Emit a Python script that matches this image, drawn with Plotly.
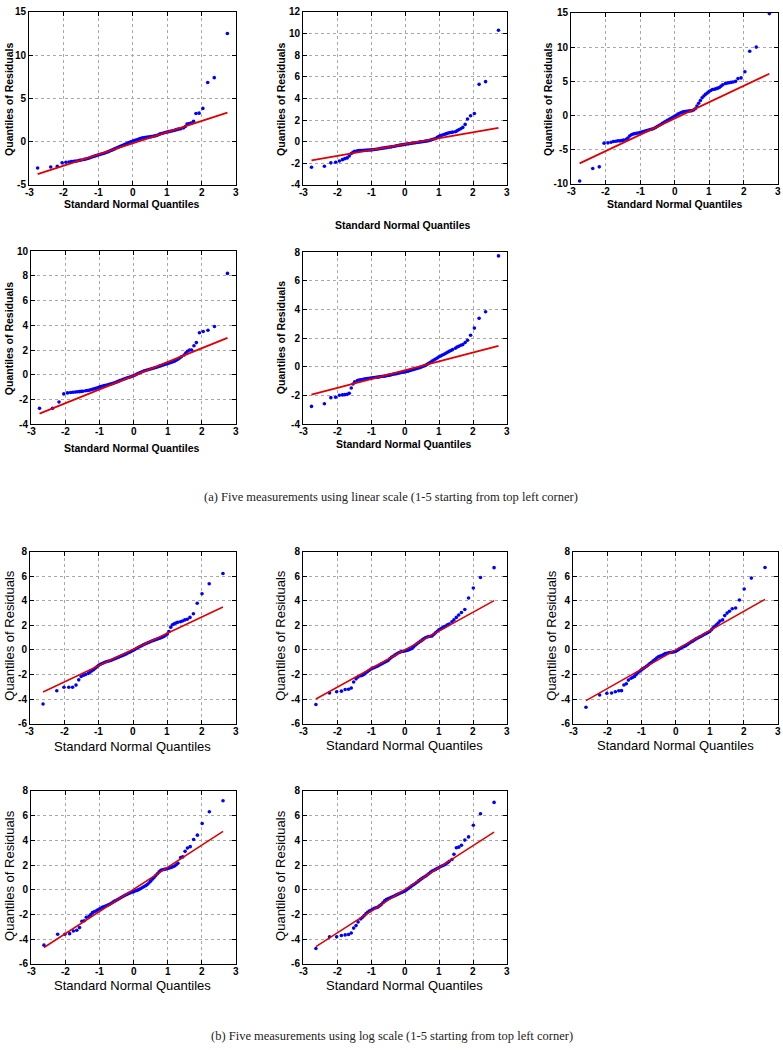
import plotly.graph_objects as go

W, H = 783, 1050

# ---------------- data ----------------
X_LIN = [-2.75, -2.37, -2.18, -2.04, -1.93, -1.84, -1.77, -1.70, -1.64, -1.58, -1.53, -1.48,
         -1.40, -1.35, -1.30, -1.25, -1.20, -1.15, -1.10, -1.05, -1.00, -0.95,
         -0.90, -0.85, -0.80, -0.75, -0.70, -0.65, -0.60, -0.55, -0.50, -0.45,
         -0.40, -0.35, -0.30, -0.25, -0.20, -0.15, -0.10, -0.05, 0.00, 0.05,
         0.10, 0.15, 0.20, 0.25, 0.30, 0.35, 0.40, 0.45, 0.50, 0.55,
         0.60, 0.65, 0.70, 0.75, 0.80, 0.85, 0.90, 0.95, 1.00, 1.05,
         1.10, 1.15, 1.20, 1.25, 1.30, 1.35, 1.40,
         1.48, 1.53, 1.58, 1.64, 1.70, 1.77, 1.84, 1.93, 2.04, 2.18, 2.37, 2.75]

Y_LIN1 = [-3.05, -2.93, -2.86, -2.45, -2.38, -2.35, -2.3, -2.27, -2.25, -2.2, -2.15, -2.12,
          -2.05, -2.00, -1.95, -1.88, -1.80, -1.74, -1.67, -1.61, -1.55, -1.48,
          -1.42, -1.36, -1.30, -1.22, -1.15, -1.06, -0.98, -0.89, -0.80, -0.71,
          -0.62, -0.53, -0.45, -0.36, -0.28, -0.19, -0.10, -0.02, 0.05, 0.12,
          0.20, 0.26, 0.32, 0.39, 0.45, 0.48, 0.50, 0.53, 0.55, 0.58,
          0.62, 0.67, 0.72, 0.80, 0.90, 0.95, 1.00, 1.06, 1.12, 1.16,
          1.20, 1.25, 1.30, 1.36, 1.42, 1.46, 1.50,
          1.6, 1.75, 2.05, 2.1, 2.15, 2.35, 3.25, 3.3, 3.85, 6.85, 7.4, 12.5]
Y_LIN2 = [-2.36, -2.27, -1.96, -1.9, -1.78, -1.66, -1.57, -1.5, -1.32, -1.1, -0.99, -0.9,
          -0.85, -0.83, -0.82, -0.81, -0.80, -0.79, -0.78, -0.77, -0.76, -0.74,
          -0.72, -0.70, -0.68, -0.65, -0.62, -0.60, -0.57, -0.55, -0.52, -0.50,
          -0.48, -0.45, -0.42, -0.38, -0.35, -0.32, -0.30, -0.27, -0.25, -0.22,
          -0.20, -0.17, -0.15, -0.12, -0.10, -0.07, -0.05, -0.02, 0.00, 0.02,
          0.05, 0.07, 0.10, 0.15, 0.20, 0.25, 0.30, 0.40, 0.50, 0.56,
          0.62, 0.67, 0.72, 0.77, 0.82, 0.85, 0.88,
          0.92, 1.0, 1.1, 1.2, 1.32, 1.6, 2.1, 2.4, 2.6, 5.3, 5.55, 10.3]
Y_LIN3 = [-9.57, -7.74, -7.5, -4.04, -3.99, -3.9, -3.8, -3.75, -3.7, -3.7, -3.65, -3.6,
          -3.46, -3.30, -3.00, -2.80, -2.70, -2.65, -2.60, -2.55, -2.50, -2.42,
          -2.35, -2.28, -2.20, -2.12, -2.05, -1.98, -1.90, -1.75, -1.60, -1.45,
          -1.30, -1.15, -1.00, -0.85, -0.70, -0.55, -0.40, -0.25, -0.10, 0.05,
          0.20, 0.33, 0.45, 0.53, 0.60, 0.63, 0.65, 0.68, 0.70, 0.80,
          1.00, 1.40, 1.80, 2.20, 2.60, 2.85, 3.10, 3.30, 3.50, 3.65,
          3.80, 3.85, 3.90, 4.00, 4.10, 4.30, 4.50,
          4.7, 4.75, 4.8, 4.85, 4.9, 5.0, 5.4, 5.5, 6.4, 9.4, 10.0, 14.9]
Y_LIN4 = [-2.72, -2.72, -2.2, -1.55, -1.47, -1.44, -1.42, -1.4, -1.38, -1.37, -1.35, -1.33,
          -1.30, -1.28, -1.25, -1.22, -1.18, -1.14, -1.10, -1.05, -1.00, -0.96,
          -0.92, -0.88, -0.85, -0.82, -0.78, -0.74, -0.70, -0.65, -0.60, -0.54,
          -0.48, -0.42, -0.37, -0.32, -0.27, -0.22, -0.18, -0.13, -0.08, -0.02,
          0.05, 0.12, 0.18, 0.24, 0.30, 0.34, 0.38, 0.43, 0.47, 0.51,
          0.55, 0.59, 0.63, 0.68, 0.72, 0.77, 0.82, 0.86, 0.90, 0.95,
          1.00, 1.05, 1.10, 1.17, 1.25, 1.35, 1.45,
          1.6, 1.75, 1.9, 2.0, 2.0, 2.35, 2.6, 3.4, 3.5, 3.6, 3.9, 8.2]
Y_LIN5 = [-2.76, -2.58, -2.15, -2.12, -1.98, -1.96, -1.94, -1.92, -1.85, -1.48, -1.2, -1.05,
          -0.95, -0.92, -0.90, -0.88, -0.86, -0.84, -0.82, -0.80, -0.78, -0.76,
          -0.75, -0.73, -0.72, -0.70, -0.68, -0.66, -0.65, -0.62, -0.60, -0.58,
          -0.55, -0.52, -0.50, -0.48, -0.45, -0.42, -0.40, -0.38, -0.35, -0.32,
          -0.30, -0.26, -0.22, -0.18, -0.15, -0.12, -0.08, -0.04, 0.00, 0.05,
          0.10, 0.17, 0.25, 0.32, 0.40, 0.48, 0.55, 0.62, 0.70, 0.76,
          0.82, 0.88, 0.95, 1.02, 1.08, 1.14, 1.20,
          1.3, 1.38, 1.43, 1.5, 1.55, 1.7, 1.85, 2.2, 2.7, 3.38, 3.84, 7.74]

X_LOG = [-2.62, -2.22, -2.01, -1.87, -1.76, -1.66, -1.58, -1.51, -1.44, -1.38,
         -1.30, -1.25, -1.20, -1.15, -1.10, -1.05, -1.00, -0.95, -0.90, -0.85,
         -0.80, -0.75, -0.70, -0.65, -0.60, -0.55, -0.50, -0.45, -0.40, -0.35,
         -0.30, -0.25, -0.20, -0.15, -0.10, -0.05, 0.00, 0.05, 0.10, 0.15,
         0.20, 0.25, 0.30, 0.35, 0.40, 0.45, 0.50, 0.55, 0.60, 0.65,
         0.70, 0.75, 0.80, 0.85, 0.90, 0.95, 1.00, 1.05, 1.10, 1.15,
         1.20, 1.25, 1.30,
         1.38, 1.44, 1.51, 1.58, 1.66, 1.76, 1.87, 2.01, 2.22, 2.62]

Y_LOG1 = [-4.4, -3.32, -3.03, -3.03, -3.03, -2.86, -2.43, -2.15, -2.05, -2.0,
          -1.90, -1.80, -1.70, -1.60, -1.48, -1.36, -1.25, -1.17, -1.10, -1.04,
          -0.98, -0.94, -0.90, -0.85, -0.80, -0.74, -0.68, -0.62, -0.56, -0.50,
          -0.44, -0.38, -0.32, -0.25, -0.18, -0.11, -0.04, 0.04, 0.12, 0.20,
          0.28, 0.35, 0.42, 0.49, 0.55, 0.61, 0.67, 0.73, 0.78, 0.83,
          0.88, 0.93, 0.98, 1.04, 1.10, 1.20, 1.30, 1.50, 1.85, 2.05,
          2.14, 2.20, 2.25,
          2.3, 2.36, 2.45, 2.5, 2.65, 2.95, 3.8, 4.58, 5.39, 6.22]
Y_LOG2 = [-4.44, -3.5, -3.4, -3.35, -3.22, -3.2, -3.1, -2.6, -2.35, -2.2,
          -2.10, -2.05, -1.98, -1.86, -1.75, -1.65, -1.55, -1.48, -1.42, -1.36,
          -1.30, -1.22, -1.15, -1.08, -1.00, -0.93, -0.85, -0.72, -0.60, -0.51,
          -0.42, -0.33, -0.25, -0.18, -0.12, -0.10, -0.08, -0.04, 0.00, 0.06,
          0.12, 0.25, 0.38, 0.50, 0.60, 0.70, 0.80, 0.90, 1.00, 1.06,
          1.10, 1.12, 1.15, 1.28, 1.40, 1.52, 1.65, 1.72, 1.80, 1.88,
          1.95, 2.04, 2.12,
          2.3, 2.45, 2.65, 2.85, 3.05, 3.3, 4.23, 5.04, 5.9, 6.7]
Y_LOG3 = [-4.66, -3.66, -3.53, -3.5, -3.4, -3.32, -3.31, -2.85, -2.75, -2.45,
          -2.30, -2.22, -2.15, -2.00, -1.85, -1.73, -1.62, -1.52, -1.42, -1.32,
          -1.22, -1.11, -1.00, -0.89, -0.78, -0.66, -0.55, -0.50, -0.45, -0.38,
          -0.30, -0.26, -0.22, -0.20, -0.18, -0.15, -0.12, -0.04, 0.05, 0.14,
          0.22, 0.28, 0.35, 0.45, 0.55, 0.64, 0.72, 0.81, 0.90, 0.98,
          1.05, 1.12, 1.20, 1.28, 1.35, 1.42, 1.50, 1.65, 1.80, 1.92,
          2.05, 2.20, 2.35,
          2.45, 2.8, 3.0, 3.15, 3.35, 3.42, 4.07, 4.96, 5.85, 6.71]
Y_LOG4 = [-4.48, -3.6, -3.6, -3.55, -3.33, -3.28, -3.06, -2.55, -2.5, -2.22,
          -2.15, -2.00, -1.85, -1.78, -1.72, -1.63, -1.55, -1.47, -1.40, -1.35,
          -1.30, -1.24, -1.18, -1.09, -1.00, -0.92, -0.85, -0.76, -0.68, -0.60,
          -0.52, -0.45, -0.38, -0.31, -0.25, -0.20, -0.15, -0.10, -0.05, 0.01,
          0.08, 0.16, 0.25, 0.33, 0.42, 0.55, 0.70, 0.85, 1.00, 1.15,
          1.30, 1.45, 1.58, 1.62, 1.65, 1.68, 1.72, 1.76, 1.80, 1.86,
          1.92, 2.03, 2.15,
          2.6, 2.66, 3.11, 3.38, 3.49, 4.07, 4.42, 5.36, 6.32, 7.2]
Y_LOG5 = [-4.75, -3.81, -3.81, -3.7, -3.65, -3.62, -3.5, -3.1, -2.9, -2.6,
          -2.35, -2.22, -2.08, -1.95, -1.82, -1.73, -1.65, -1.57, -1.50, -1.45,
          -1.40, -1.30, -1.20, -1.05, -0.90, -0.80, -0.72, -0.66, -0.60, -0.54,
          -0.48, -0.41, -0.35, -0.28, -0.22, -0.16, -0.10, 0.00, 0.10, 0.21,
          0.32, 0.41, 0.50, 0.61, 0.72, 0.82, 0.92, 1.01, 1.10, 1.20,
          1.30, 1.41, 1.52, 1.58, 1.65, 1.72, 1.80, 1.88, 1.95, 2.01,
          2.08, 2.19, 2.30,
          2.45, 2.87, 3.4, 3.45, 3.6, 4.02, 4.28, 5.22, 6.15, 7.07]

# reference (fit) line end points
LINE_LIN_X = [-2.75, 2.75]
LINE_LIN_Y = [[-3.75, 3.35], [-1.72, 1.27], [-7.0, 6.1], [-3.15, 2.98], [-1.94, 1.46]]
LINE_LOG_X = [-2.62, 2.62]
LINE_LOG_Y = [[-3.42, 3.5], [-3.99, 4.02], [-4.12, 4.12], [-4.67, 4.72], [-4.6, 4.66]]

X_TICKS = [-3, -2, -1, 0, 1, 2, 3]
Y_RANGES = [(-5, 15, 5), (-4, 12, 2), (-10, 15, 5), (-4, 10, 2), (-4, 8, 2),
            (-6, 8, 2), (-6, 8, 2), (-6, 8, 2), (-6, 8, 2), (-6, 8, 2)]

X_TITLE = "Standard Normal Quantiles"
Y_TITLE = "Quantiles of Residuals"
CAPTION_A = "(a) Five measurements using linear scale (1-5 starting from top left corner)"
CAPTION_B = "(b) Five measurements using log scale (1-5 starting from top left corner)"

# ---------------- layout geometry (pixels) ----------------
# (left, right, top, bottom), x-title centre (x, y), y-title centre (x, y)
PANELS = [
    ((29, 236, 6, 181), (132, 200), (9, 95)),
    ((303, 507, 6, 181), (403, 222), (281, 95)),
    ((571, 778, 7, 180), (675, 200), (548, 95)),
    ((31, 236, 248, 423), (132, 447), (9, 337)),
    ((303, 507, 249, 423), (404, 443), (281, 336)),
    ((30, 236, 552, 726), (132, 749), (10, 637)),
    ((303, 507, 552, 726), (404, 748), (281, 637)),
    ((573, 778, 552, 726), (675, 748), (552, 637)),
    ((31, 236, 794, 969), (132, 991), (10, 880)),
    ((303, 507, 794, 969), (404, 991), (281, 880)),
]

series = [(X_LIN, Y_LIN1), (X_LIN, Y_LIN2), (X_LIN, Y_LIN3), (X_LIN, Y_LIN4), (X_LIN, Y_LIN5),
          (X_LOG, Y_LOG1), (X_LOG, Y_LOG2), (X_LOG, Y_LOG3), (X_LOG, Y_LOG4), (X_LOG, Y_LOG5)]
lines = [(LINE_LIN_X, ly) for ly in LINE_LIN_Y] + [(LINE_LOG_X, ly) for ly in LINE_LOG_Y]

fig = go.Figure()
layout = dict(width=W, height=H, margin=dict(l=0, r=0, t=0, b=0),
              paper_bgcolor="white", plot_bgcolor="white", showlegend=False)
annotations = []
tickfont = dict(family="Liberation Sans", size=10, color="black", weight="bold")

for i, ((l, r, t, b), xt, yt) in enumerate(PANELS):
    n = i + 1
    xa = "xaxis" if n == 1 else f"xaxis{n}"
    ya = "yaxis" if n == 1 else f"yaxis{n}"
    xr = "x" if n == 1 else f"x{n}"
    yr = "y" if n == 1 else f"y{n}"
    is_log = i >= 5
    lo, hi, step = Y_RANGES[i]
    yticks = list(range(lo, hi + 1, step))
    common = dict(showline=True, linecolor="black", linewidth=1, mirror="ticks",
                  ticks="inside", ticklen=4, tickcolor="black", tickwidth=1,
                  showgrid=True, gridcolor="#a8a8a8", griddash="dot", gridwidth=1,
                  zeroline=False, tickfont=tickfont)
    layout[xa] = dict(domain=[l / W, r / W], anchor=yr, range=[-3, 3],
                      tickvals=X_TICKS, showticklabels=False, **common)
    layout[ya] = dict(domain=[1 - b / H, 1 - t / H], anchor=xr, range=[lo, hi],
                      tickvals=yticks, ticktext=[str(v) for v in yticks], **common)

    # x tick labels as text placed through the x axis (data coordinates)
    for v in X_TICKS:
        annotations.append(dict(text=str(v), x=v, xref=xr, y=1 - (b + 7.5) / H, yref="paper",
                                xanchor="center", yanchor="middle", showarrow=False,
                                font=tickfont))

    sx, sy = series[i]
    fig.add_trace(go.Scatter(x=sx, y=sy, mode="markers", xaxis=xr, yaxis=yr,
                             marker=dict(color="#0000ff", size=3.6, line=dict(width=0))))
    lx, ly = lines[i]
    fig.add_trace(go.Scatter(x=lx, y=ly, mode="lines", xaxis=xr, yaxis=yr,
                             line=dict(color="#e00000", width=1.8 if not is_log else 1.5)))

    if is_log:
        tf = dict(family="Liberation Sans", size=13, color="black")
    else:
        tf = dict(family="Liberation Sans", size=10.5, color="black", weight="bold")
    annotations.append(dict(text=X_TITLE, x=xt[0] / W, y=1 - xt[1] / H, xref="paper", yref="paper",
                            xanchor="center", yanchor="middle", showarrow=False, font=tf))
    annotations.append(dict(text=Y_TITLE, x=yt[0] / W, y=1 - yt[1] / H, xref="paper", yref="paper",
                            xanchor="center", yanchor="middle", showarrow=False, font=tf,
                            textangle=-90))

capfont = dict(family="Liberation Serif", size=12.5, color="#222222")
annotations.append(dict(text=CAPTION_A, x=391 / W, y=1 - 497 / H, xref="paper", yref="paper",
                        xanchor="center", yanchor="middle", showarrow=False, font=capfont))
annotations.append(dict(text=CAPTION_B, x=392 / W, y=1 - 1042 / H, xref="paper", yref="paper",
                        xanchor="center", yanchor="middle", showarrow=False, font=capfont))
layout["annotations"] = annotations

fig.update_layout(**layout)
# remove the browser's default 8px page margin so the figure sits at the window origin
fig.write_html("out.html", config={"displayModeBar": False},
               post_script="document.body.style.margin='0';")
